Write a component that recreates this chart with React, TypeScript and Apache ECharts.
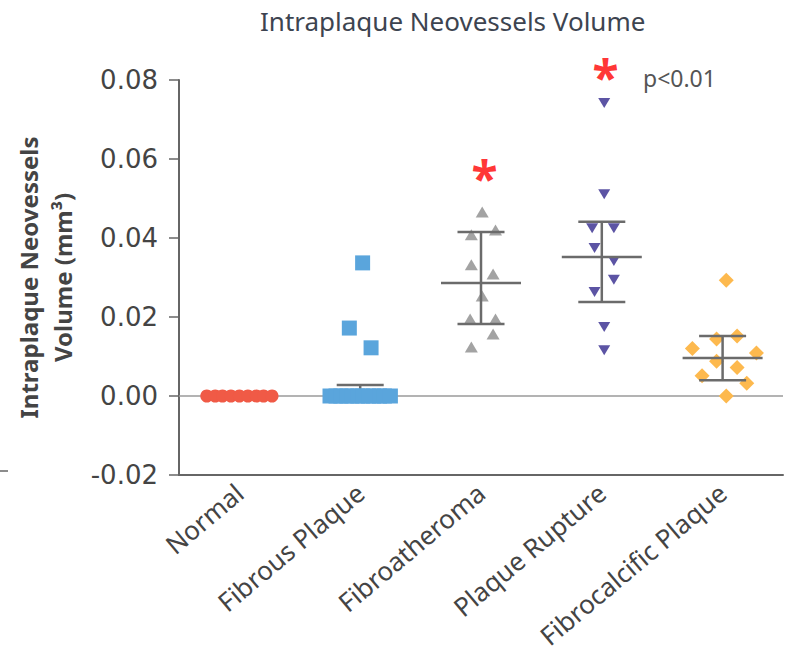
import React, { useEffect, useRef } from 'react';
import * as echarts from 'echarts';

const categories = ['Normal', 'Fibrous Plaque', 'Fibroatheroma', 'Plaque Rupture', 'Fibrocalcific Plaque'];

// Per-group values (mm^3) and horizontal jitter (in category units)
const normalValues = [0, 0, 0, 0, 0, 0, 0, 0, 0];
const normalJitter = [-0.27, -0.2, -0.14, -0.07, 0, 0.07, 0.14, 0.2, 0.27];

const fibrousValues = [0, 0, 0, 0, 0, 0, 0, 0, 0, 0, 0, 0, 0.0337, 0.0172, 0.0122];
const fibrousJitter = [-0.25, -0.2, -0.16, -0.11, -0.07, -0.02, 0.02, 0.07, 0.11, 0.16, 0.2, 0.25, 0.02, -0.09, 0.09];

const fibroatheromaValues = [0.0466, 0.0408, 0.042, 0.0332, 0.0309, 0.0253, 0.0195, 0.0195, 0.0157, 0.0124];
const fibroatheromaJitter = [0.01, -0.08, 0.12, -0.08, 0.1, 0.01, -0.09, 0.12, 0.1, -0.08];

const ruptureValues = [0.0742, 0.0511, 0.0425, 0.0425, 0.0375, 0.0342, 0.0294, 0.0263, 0.0175, 0.0116];
const ruptureJitter = [0.02, 0.02, -0.08, 0.1, -0.06, 0.1, 0.1, -0.06, 0.02, 0.02];

const fibrocalcificValues = [0.0293, 0.0144, 0.0152, 0.012, 0.0109, 0.0088, 0.0072, 0.0051, 0.0032, 0.0];
const fibrocalcificJitter = [0.03, -0.05, 0.12, -0.25, 0.28, -0.05, 0.12, -0.17, 0.2, 0.03];

// Mean and SD bounds per category
const meanValues: (number | null)[] = [null, null, 0.0286, 0.0352, 0.0096];
const sdUpper: (number | null)[] = [null, 0.0028, 0.0415, 0.0441, 0.0152];
const sdLower: (number | null)[] = [null, 0, 0.0182, 0.0238, 0.004];

// Significance stars
const starValues: (number | null)[] = [null, null, 0.0563, 0.082, null];
const starJitter = 0.03;

const yMin = -0.02;
const yMax = 0.08;
const yStep = 0.02;

const FONT = 'Noto Sans';

const pts = (vals: number[], jit: number[], idx: number) =>
  vals.map((v, i) => [idx + jit[i], v]);

export default function App() {
  const ref = useRef<HTMLDivElement>(null);
  useEffect(() => {
    if (!ref.current) return;
    const chart = echarts.init(ref.current, null, { renderer: 'svg' });

    const errData = categories
      .map((_, i) => i)
      .filter((i) => sdUpper[i] !== null)
      .map((i) => [i, sdUpper[i] as number]);

    const starData = starValues
      .map((v, i) => (v === null ? null : [i + starJitter, v]))
      .filter((d) => d !== null);

    const option: any = {
      animation: false,
      textStyle: { fontFamily: FONT },
      title: {
        text: 'Intraplaque Neovessels Volume',
        left: 255,
        top: 3,
        textStyle: { fontFamily: FONT, fontSize: 26, fontWeight: 'normal', color: '#3d4450' },
      },
      grid: { left: 179, right: 11, top: 80, bottom: 183, outerBoundsMode: 'none', containLabel: false },
      xAxis: [
        {
          type: 'category',
          data: categories,
          boundaryGap: true,
          axisLine: { onZero: false, lineStyle: { color: '#666', width: 2 } },
          axisTick: { alignWithLabel: true, length: 10, lineStyle: { color: '#666', width: 1.5 } },
          axisLabel: { rotate: 40, fontSize: 26, color: '#444', margin: 14, fontFamily: FONT },
        },
        { type: 'value', min: -0.5, max: 4.5, show: false, axisLine: { onZero: false } },
      ],
      yAxis: {
        type: 'value',
        min: yMin,
        max: yMax,
        interval: yStep,
        name: 'Intraplaque Neovessels\nVolume (mm³)',
        nameLocation: 'middle',
        nameGap: 100,
        nameMoveOverlap: false,
        nameTextStyle: { fontSize: 24, color: '#444', fontWeight: 'bold', lineHeight: 34, fontFamily: FONT },
        axisLine: { show: true, onZero: false, lineStyle: { color: '#666', width: 2 } },
        axisTick: { show: true, length: 10, lineStyle: { color: '#666', width: 1.5 } },
        splitLine: { show: false },
        axisLabel: {
          fontSize: 26,
          color: '#444',
          margin: 21,
          fontFamily: 'DejaVu Sans',
          formatter: (v: number) => (Math.abs(v) < 1e-9 ? '0.00' : v.toFixed(2)),
        },
      },
      graphic: [
        { type: 'line', shape: { x1: 0, y1: 471, x2: 8, y2: 471 }, style: { stroke: '#666', lineWidth: 1.5 } },
        {
          type: 'text',
          left: 643,
          top: 66,
          style: { text: 'p<0.01', fontSize: 23, fill: '#555', fontFamily: FONT },
        },
      ],
      series: [
        {
          name: 'Normal',
          type: 'scatter',
          xAxisIndex: 1,
          data: pts(normalValues, normalJitter, 0),
          symbol: 'circle',
          symbolSize: 13,
          itemStyle: { color: '#f05a46', opacity: 1 },
          z: 2,
          markLine: {
            silent: true,
            symbol: 'none',
            label: { show: false },
            lineStyle: { color: '#9a9a9a', width: 1.5, type: 'solid' },
            data: [{ yAxis: 0 }],
            z: 1,
          },
        },
        {
          name: 'Fibrous Plaque',
          type: 'scatter',
          xAxisIndex: 1,
          data: pts(fibrousValues, fibrousJitter, 1),
          symbol: 'rect',
          symbolSize: 15,
          itemStyle: { color: '#5aa5dc', opacity: 1 },
          z: 4,
        },
        {
          name: 'Fibroatheroma',
          type: 'scatter',
          xAxisIndex: 1,
          data: pts(fibroatheromaValues, fibroatheromaJitter, 2),
          symbol: 'triangle',
          symbolSize: [13, 11],
          itemStyle: { color: '#a3a3a3', opacity: 1 },
          z: 2,
        },
        {
          name: 'Plaque Rupture',
          type: 'scatter',
          xAxisIndex: 1,
          data: pts(ruptureValues, ruptureJitter, 3),
          symbol: 'triangle',
          symbolRotate: 180,
          symbolSize: [12, 10],
          itemStyle: { color: '#5c54a4', opacity: 1 },
          z: 2,
        },
        {
          name: 'Fibrocalcific Plaque',
          type: 'scatter',
          xAxisIndex: 1,
          data: pts(fibrocalcificValues, fibrocalcificJitter, 4),
          symbol: 'diamond',
          symbolSize: 15,
          itemStyle: { color: '#fdb94e', opacity: 1 },
          z: 2,
        },
        {
          name: 'errorbars',
          type: 'custom',
          xAxisIndex: 1,
          data: errData,
          z: 3,
          silent: true,
          renderItem: (params: any, api: any) => {
            const idx = api.value(0);
            const cx = api.coord([idx, 0])[0];
            const hi = sdUpper[idx] as number;
            const lo = sdLower[idx] as number;
            const m = meanValues[idx];
            const yHi = api.coord([idx, hi])[1];
            const yLo = api.coord([idx, lo])[1];
            const style = { stroke: '#6b6b6b', lineWidth: 2.5 };
            const children: any[] = [
              { type: 'line', shape: { x1: cx, y1: yHi, x2: cx, y2: yLo }, style },
              { type: 'line', shape: { x1: cx - 23.5, y1: yHi, x2: cx + 23.5, y2: yHi }, style },
              { type: 'line', shape: { x1: cx - 23.5, y1: yLo, x2: cx + 23.5, y2: yLo }, style },
            ];
            if (m !== null) {
              const yM = api.coord([idx, m])[1];
              children.push({ type: 'line', shape: { x1: cx - 40, y1: yM, x2: cx + 40, y2: yM }, style });
            }
            return { type: 'group', children };
          },
        },
        {
          name: 'stars',
          type: 'scatter',
          xAxisIndex: 1,
          data: starData,
          symbol: 'circle',
          symbolSize: 1,
          clip: false,
          itemStyle: { color: 'transparent' },
          z: 5,
          label: {
            show: true,
            position: 'inside',
            formatter: '*',
            fontSize: 48,
            fontWeight: 'bold',
            color: '#ff0000',
            offset: [0, 4],
            fontFamily: FONT,
          },
        },
      ],
    };

    chart.setOption(option);
    return () => chart.dispose();
  }, []);

  return (
    <div
      ref={ref}
      style={{ position: 'fixed', left: 0, top: 0, width: 794, height: 658, background: '#fff' }}
    />
  );
}
